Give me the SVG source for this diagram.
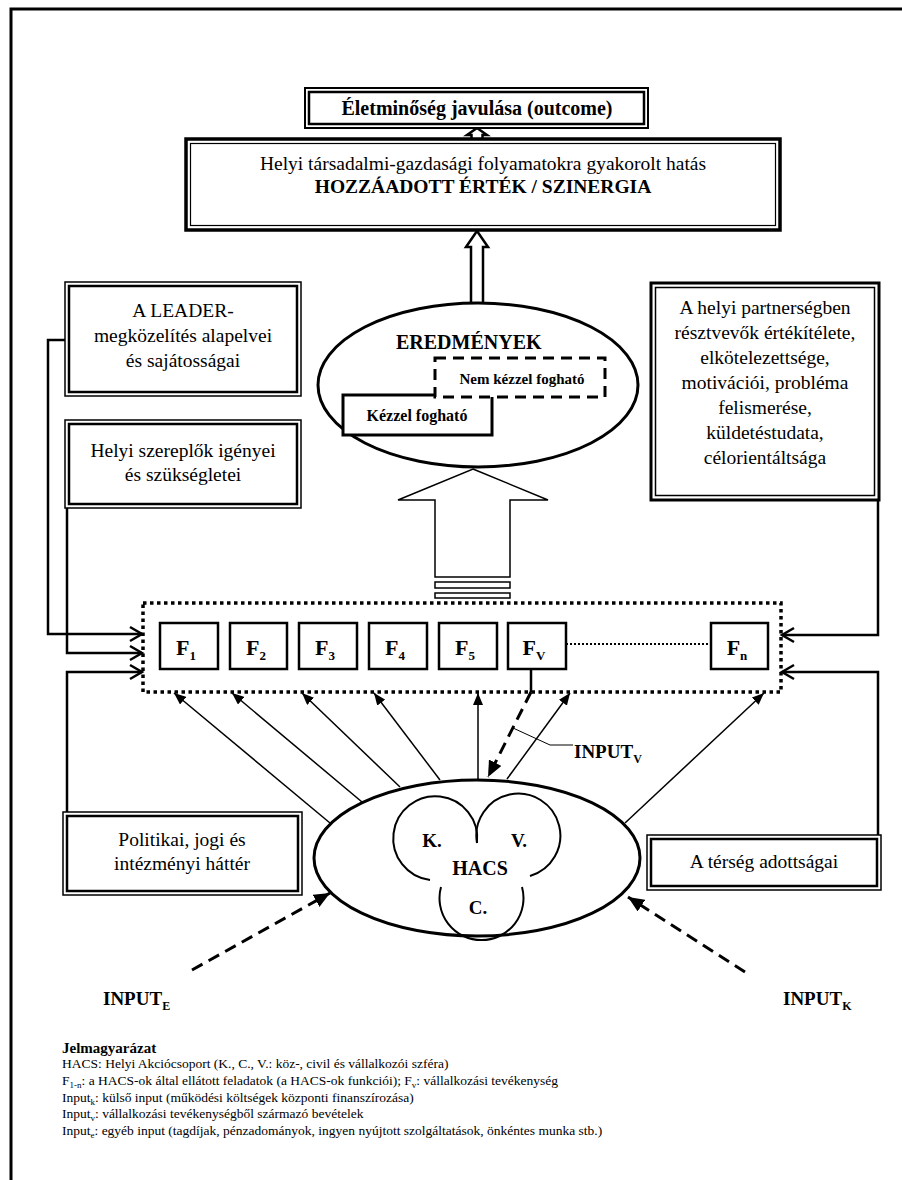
<svg xmlns="http://www.w3.org/2000/svg" width="902" height="1180" viewBox="0 0 902 1180">
<defs>
<style>
text{font-family:"Liberation Serif","Times New Roman",serif;fill:#000}
.b{font-weight:bold}
.t{font-size:19.5px;text-anchor:middle}
.o{fill:#fff;stroke:#000}
.n{fill:none;stroke:#000}
.fb{fill:#fff;stroke:#000;stroke-width:2.5}
.ft{font-size:22px;font-weight:bold;text-anchor:middle}
.sub{font-size:13px}
.thin{fill:none;stroke:#000;stroke-width:1.5}
.conn{fill:none;stroke:#000;stroke-width:2.5}
.dash{fill:none;stroke:#000;stroke-width:3;stroke-dasharray:12 7}
.lg{font-size:13.5px}
</style>
<marker id="chev" markerUnits="userSpaceOnUse" markerWidth="16" markerHeight="16" refX="13" refY="8" orient="auto" overflow="visible">
<path d="M1,1 L13,8 L1,15" fill="none" stroke="#000" stroke-width="2.5"/>
</marker>
<marker id="tri" markerUnits="userSpaceOnUse" markerWidth="12" markerHeight="10" refX="12" refY="5" orient="auto">
<path d="M0,0 L12,5 L0,10 Z" fill="#000"/>
</marker>
<marker id="triB" markerUnits="userSpaceOnUse" markerWidth="16" markerHeight="14" refX="16" refY="7" orient="auto">
<path d="M0,0 L16,7 L0,14 Z" fill="#000"/>
</marker>
</defs>
<rect width="902" height="1180" fill="#fff"/>
<path d="M11,1180 V9 H902" class="n" stroke-width="3"/>

<g id="arrow-top">
<polygon points="477,128 487,135 482.5,135 482.5,142 471.5,142 471.5,135 467,135" class="o" stroke-width="2.5"/>
</g>
<g id="arrow-mid">
<polygon points="477,231 488,247 483,247 483,310 471,310 471,247 466,247" class="o" stroke-width="2.5"/>
</g>

<g id="outcome">
<rect x="305" y="88" width="343" height="40" class="o" stroke-width="2"/>
<rect x="309" y="92" width="335" height="32" class="n" stroke-width="2.5"/>
<text x="477" y="115" class="b" font-size="20" text-anchor="middle">Életminőség javulása (outcome)</text>
</g>

<g id="hatas">
<rect x="186" y="139" width="594" height="91" class="o" stroke-width="3.5"/>
<rect x="190.5" y="143.5" width="585" height="82" class="n" stroke-width="1.2"/>
<text x="483" y="170" class="t">Helyi társadalmi-gazdasági folyamatokra gyakorolt hatás</text>
<text x="483" y="193" class="t b">HOZZÁADOTT ÉRTÉK / SZINERGIA</text>
</g>

<g id="leader">
<rect x="65" y="282" width="236" height="114" class="o" stroke-width="1.5"/>
<rect x="69" y="286" width="228" height="106" class="n" stroke-width="2.5"/>
<text x="183" y="317" class="t">A LEADER-</text>
<text x="183" y="342" class="t">megközelítés alapelvei</text>
<text x="183" y="367" class="t">és sajátosságai</text>
</g>

<g id="szereplok">
<rect x="65" y="420" width="236" height="88" class="o" stroke-width="1.5"/>
<rect x="69" y="424" width="228" height="80" class="n" stroke-width="2.5"/>
<text x="183" y="457" class="t">Helyi szereplők igényei</text>
<text x="183" y="481" class="t">és szükségletei</text>
</g>

<g id="partnerseg">
<rect x="651" y="283" width="228" height="217" class="o" stroke-width="3"/>
<rect x="655.5" y="287.5" width="219" height="208" class="n" stroke-width="1.5"/>
<text x="765" y="314" class="t">A helyi partnerségben</text>
<text x="765" y="339" class="t">résztvevők értékítélete,</text>
<text x="765" y="364" class="t">elkötelezettsége,</text>
<text x="765" y="389" class="t">motivációi, probléma</text>
<text x="765" y="414" class="t">felismerése,</text>
<text x="765" y="439" class="t">küldetéstudata,</text>
<text x="765" y="464" class="t">célorientáltsága</text>
</g>

<g id="eredmenyek">
<ellipse cx="478" cy="385" rx="160" ry="82" class="o" stroke-width="3"/>
<text x="396" y="349" class="b" font-size="20">EREDMÉNYEK</text>
<rect x="343" y="395" width="149" height="40" class="o" stroke-width="3"/>
<text x="417" y="421" class="b" font-size="16" text-anchor="middle">Kézzel fogható</text>
<rect x="435" y="358" width="170" height="39" fill="#fff" stroke="#000" stroke-width="3" stroke-dasharray="11 7"/>
<text x="522" y="384" class="b" font-size="15" text-anchor="middle">Nem kézzel fogható</text>
</g>

<g id="arrow-big">
<polygon points="473,469 548,500 510,500 510,577 435,577 435,500 398,500" class="o" stroke-width="1.5"/>
<rect x="435" y="582" width="75" height="6" class="o" stroke-width="1.5"/>
<rect x="435" y="593" width="75" height="5" class="o" stroke-width="1.5"/>
</g>

<g id="funkciok">
<rect x="143" y="603" width="638" height="89" fill="none" stroke="#000" stroke-width="3.5" stroke-dasharray="3.5 3.5"/>
<line x1="566" y1="644" x2="711" y2="644" stroke="#000" stroke-width="2" stroke-dasharray="2 2"/>
</g>
<g id="F1"><rect x="160" y="623" width="58" height="46" class="fb"/><text x="186" y="655" class="ft">F<tspan class="sub" dy="5">1</tspan></text></g>
<g id="F2"><rect x="230" y="623" width="57" height="46" class="fb"/><text x="256" y="655" class="ft">F<tspan class="sub" dy="5">2</tspan></text></g>
<g id="F3"><rect x="299" y="623" width="58" height="46" class="fb"/><text x="325" y="655" class="ft">F<tspan class="sub" dy="5">3</tspan></text></g>
<g id="F4"><rect x="369" y="623" width="58" height="46" class="fb"/><text x="395" y="655" class="ft">F<tspan class="sub" dy="5">4</tspan></text></g>
<g id="F5"><rect x="439" y="623" width="58" height="46" class="fb"/><text x="465" y="655" class="ft">F<tspan class="sub" dy="5">5</tspan></text></g>
<g id="Fv"><rect x="508" y="623" width="58" height="46" class="fb"/><text x="534" y="655" class="ft">F<tspan class="sub" dy="5">V</tspan></text></g>
<g id="Fn"><rect x="711" y="623" width="57" height="46" class="fb"/><text x="737" y="655" class="ft">F<tspan class="sub" dy="5">n</tspan></text></g>

<g id="politikai">
<rect x="63" y="812" width="239" height="83" class="o" stroke-width="1.5"/>
<rect x="67" y="816" width="231" height="75" class="n" stroke-width="2.5"/>
<text x="182" y="846" class="t">Politikai, jogi és</text>
<text x="182" y="870" class="t">intézményi háttér</text>
</g>

<g id="terseg">
<rect x="647" y="835" width="234" height="55" class="o" stroke-width="1.5"/>
<rect x="651" y="839" width="226" height="47" class="n" stroke-width="2.5"/>
<text x="764" y="868" class="t">A térség adottságai</text>
</g>

<g id="connectors">
<polyline points="65,340 48,340 48,634 142,634" class="conn" marker-end="url(#chev)"/>
<polyline points="67,508 67,653 142,653" class="conn" marker-end="url(#chev)"/>
<polyline points="67,812 67,672 142,672" class="conn" marker-end="url(#chev)"/>
<polyline points="878,500 878,635 782,635" class="conn" marker-end="url(#chev)"/>
<polyline points="878,835 878,672 782,672" class="conn" marker-end="url(#chev)"/>
<line x1="330" y1="823" x2="174" y2="693" class="thin" marker-end="url(#tri)"/>
<line x1="362" y1="802" x2="232" y2="693" class="thin" marker-end="url(#tri)"/>
<line x1="400" y1="787" x2="302" y2="693" class="thin" marker-end="url(#tri)"/>
<line x1="440" y1="780" x2="374" y2="693" class="thin" marker-end="url(#tri)"/>
<line x1="478" y1="780" x2="478" y2="693" class="thin" marker-end="url(#tri)"/>
<line x1="507" y1="779" x2="570" y2="693" class="thin" marker-end="url(#tri)"/>
<line x1="625" y1="823" x2="764" y2="693" class="thin" marker-end="url(#tri)"/>
<line x1="531" y1="669" x2="531" y2="692" stroke="#000" stroke-width="2.5"/>
<line x1="531" y1="692" x2="488" y2="777" class="dash" marker-end="url(#triB)"/>
<polyline points="513,728 550,745 573,745" fill="none" stroke="#000" stroke-width="1"/>
<line x1="192" y1="970" x2="330" y2="893" class="dash" marker-end="url(#triB)"/>
<line x1="745" y1="972" x2="628" y2="897" class="dash" marker-end="url(#triB)"/>
</g>

<g id="hacs">
<ellipse cx="477" cy="858" rx="163" ry="78" class="o" stroke-width="3"/>
<path d="M430,880 A42,42 0 1 1 477,843" class="n" stroke-width="2"/>
<path d="M477,843 A42,42 0 1 1 530,876" class="n" stroke-width="2"/>
<path d="M522,887 A42,42 0 1 1 441,887" class="n" stroke-width="2"/>
<text x="432" y="847" class="b" font-size="19" text-anchor="middle">K.</text>
<text x="519" y="847" class="b" font-size="19" text-anchor="middle">V.</text>
<text x="480" y="875" class="b" font-size="20" text-anchor="middle">HACS</text>
<text x="478" y="914" class="b" font-size="19" text-anchor="middle">C.</text>
</g>

<g id="inputs">
<text x="574" y="758" class="b" font-size="19">INPUT<tspan font-size="12" dy="5">V</tspan></text>
<text x="103" y="1005" class="b" font-size="19">INPUT<tspan font-size="12" dy="5">E</tspan></text>
<text x="783" y="1005" class="b" font-size="19">INPUT<tspan font-size="12" dy="5">K</tspan></text>
</g>

<g id="legend">
<text x="62" y="1053" class="b" font-size="15">Jelmagyarázat</text>
<text x="62" y="1068" class="lg">HACS: Helyi Akciócsoport (K., C., V.: köz-, civil és vállalkozói szféra)</text>
<text x="62" y="1085" class="lg">F<tspan font-size="9" dy="3">1-n</tspan><tspan dy="-3">: a HACS-ok által ellátott feladatok (a HACS-ok funkciói); F</tspan><tspan font-size="9" dy="3">v</tspan><tspan dy="-3">: vállalkozási tevékenység</tspan></text>
<text x="62" y="1102" class="lg">Input<tspan font-size="9" dy="3">k</tspan><tspan dy="-3">: külső input (működési költségek központi finanszírozása)</tspan></text>
<text x="62" y="1118" class="lg">Input<tspan font-size="9" dy="3">v</tspan><tspan dy="-3">: vállalkozási tevékenységből származó bevételek</tspan></text>
<text x="62" y="1135" class="lg">Input<tspan font-size="9" dy="3">e</tspan><tspan dy="-3">: egyéb input (tagdíjak, pénzadományok, ingyen nyújtott szolgáltatások, önkéntes munka stb.)</tspan></text>
</g>
</svg>
